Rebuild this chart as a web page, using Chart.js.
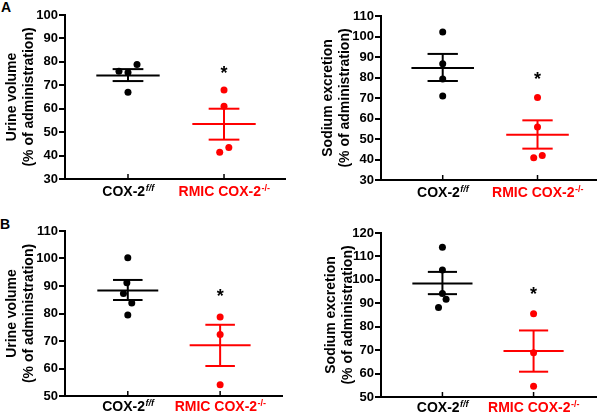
<!DOCTYPE html>
<html>
<head>
<meta charset="utf-8">
<script src="https://cdn.jsdelivr.net/npm/chart.js@4/dist/chart.umd.min.js"></script>
<style>
  body { margin: 0; background: #fff; width: 600px; height: 412px; position: relative; overflow: hidden; font-family: "Liberation Sans", Arial, sans-serif; }
  .painel { position: absolute; width: 300px; height: 206px; }
  .letra { position: absolute; font-weight: bold; font-size: 14px; line-height: 1; }
</style>
</head>
<body>
<div class="letra" style="left:1px;top:0px">A</div>
<div class="letra" style="left:0px;top:217px">B</div>
<div class="painel" style="left:0;top:0"><canvas id="grafico-a1" width="300" height="206"></canvas></div>
<div class="painel" style="left:300px;top:0"><canvas id="grafico-a2" width="300" height="206"></canvas></div>
<div class="painel" style="left:0;top:206px"><canvas id="grafico-b1" width="300" height="206"></canvas></div>
<div class="painel" style="left:300px;top:206px"><canvas id="grafico-b2" width="300" height="206"></canvas></div>
<script>
// grupos (eixo x)
var categorias = ["COX-2", "RMIC COX-2"];
var sobrescritos = ["f/f", "-/-"];
var coresGrupos = ["#000000", "#ff0000"];

// A - volume urinário
var volA_ctrl = [76.0, 75.5, 78.9, 67.0];
var volA_ctrl_desl = [-0.094, 0, 0.094, 0];
var volA_ko = [68.0, 61.1, 43.4, 41.4];
var volA_ko_desl = [0, 0, 0.05, -0.045];
var volA_media = [74.2, 53.5];
var volA_sem = [[71.8, 76.9], [46.8, 60.0]];

// A - excreção de sódio
var sodA_ctrl = [102.2, 86.7, 79.3, 71.0];
var sodA_ctrl_desl = [0, 0, 0, 0];
var sodA_ko = [70.2, 55.9, 41.9, 40.9];
var sodA_ko_desl = [0, 0, 0.05, -0.04];
var sodA_media = [84.6, 52.1];
var sodA_sem = [[78.3, 91.5], [45.3, 59.1]];

// B - volume urinário
var volB_ctrl = [100.3, 91.2, 87.3, 83.8, 79.5];
var volB_ctrl_desl = [0, -0.01, -0.047, 0.043, 0];
var volB_ko = [78.7, 72.4, 54.1];
var volB_ko_desl = [0, 0, 0];
var volB_media = [88.4, 68.5];
var volB_sem = [[84.9, 92.2], [60.9, 75.9]];

// B - excreção de sódio
var sodB_ctrl = [113.9, 104.2, 94.2, 91.7, 88.2];
var sodB_ctrl_desl = [0, 0, 0, 0.04, -0.043];
var sodB_ko = [85.5, 68.9, 54.6];
var sodB_ko_desl = [0, 0, 0];
var sodB_media = [98.4, 69.6];
var sodB_sem = [[93.9, 103.4], [60.8, 78.4]];

var fonte = "'Liberation Sans', Arial, sans-serif";

function pontos(valores, desl, grupo) {
  return {
    type: "scatter",
    data: valores.map(function (v, i) { return { x: grupo + 1 + desl[i], y: v }; }),
    backgroundColor: coresGrupos[grupo],
    borderWidth: 0,
    pointRadius: 3.5,
    order: 1,
  };
}

function segmento(x1, y1, x2, y2, cor) {
  return {
    type: "scatter",
    data: [{ x: x1, y: y1 }, { x: x2, y: y2 }],
    showLine: true,
    borderColor: cor,
    borderWidth: 2,
    pointRadius: 0,
    order: 2,
  };
}

// média ± EPM de cada grupo
function barrasMedia(media, sem) {
  var lista = [];
  media.forEach(function (m, g) {
    var c = g + 1, cor = coresGrupos[g];
    lista.push(segmento(c - 0.33, m, c + 0.33, m, cor));
    lista.push(segmento(c, sem[g][0], c, sem[g][1], cor));
    lista.push(segmento(c - 0.16, sem[g][0], c + 0.16, sem[g][0], cor));
    lista.push(segmento(c - 0.16, sem[g][1], c + 0.16, sem[g][1], cor));
  });
  return lista;
}

// rótulos do eixo x com sobrescrito, marcas para dentro e asterisco
var rotulosX = {
  id: "rotulosX",
  afterDraw: function (chart, args, opts) {
    var ctx = chart.ctx;
    var sx = chart.scales.x, sy = chart.scales.y;
    var base = chart.chartArea.bottom;
    ctx.save();
    categorias.forEach(function (cat, i) {
      var px = sx.getPixelForValue(i + 1);
      ctx.strokeStyle = "#000";
      ctx.lineWidth = 1.5;
      ctx.beginPath();
      ctx.moveTo(px, base);
      ctx.lineTo(px, base - 5);
      ctx.stroke();

      var fBase = "bold 14px " + fonte;
      var fSup = (i === 0 ? "italic " : "") + "bold 9px " + fonte;
      ctx.font = fBase;
      var w1 = ctx.measureText(cat).width;
      ctx.font = fSup;
      var w2 = ctx.measureText(sobrescritos[i]).width;
      var x0 = px - (w1 + w2) / 2;
      ctx.fillStyle = coresGrupos[i];
      ctx.textAlign = "left";
      ctx.textBaseline = "alphabetic";
      ctx.font = fBase;
      ctx.fillText(cat, x0, base + opts.desceRotulo);
      ctx.font = fSup;
      ctx.fillText(sobrescritos[i], x0 + w1 + 0.5, base + opts.desceRotulo - 5);
    });
    ctx.fillStyle = "#000";
    ctx.font = "bold 18px " + fonte;
    ctx.textAlign = "center";
    ctx.fillText("*", sx.getPixelForValue(2), sy.getPixelForValue(opts.estrela) + 10);
    ctx.restore();
  },
};

function criarGrafico(id, p) {
  var ctx = document.getElementById(id).getContext("2d");
  var datasets = [
    pontos(p.ctrl, p.ctrlDesl, 0),
    pontos(p.ko, p.koDesl, 1),
  ].concat(barrasMedia(p.media, p.sem));

  return new Chart(ctx, {
    type: "scatter",
    data: { datasets: datasets },
    plugins: [rotulosX],
    options: {
      responsive: false,
      animation: false,
      layout: { padding: { top: p.topo, right: 300 - p.direita, left: 0, bottom: 0 } },
      plugins: {
        legend: { display: false },
        tooltip: { enabled: false },
        rotulosX: { estrela: p.estrela, desceRotulo: p.desceRotulo },
      },
      scales: {
        x: {
          type: "linear",
          min: p.xMin,
          max: p.xMax,
          afterFit: function (s) { s.height = 206 - p.fundo; },
          border: { display: true, color: "#000", width: 2 },
          grid: { display: false },
          ticks: { display: false },
        },
        y: {
          min: p.yMin,
          max: p.yMax,
          afterFit: function (s) { s.width = p.esquerda; },
          border: { display: true, color: "#000", width: 2 },
          grid: { drawOnChartArea: false, drawTicks: true, tickLength: 6, color: "#000", lineWidth: 2 },
          ticks: {
            stepSize: 10,
            autoSkip: false,
            padding: 1,
            color: "#000",
            font: { family: fonte, size: 13, weight: "bold" },
          },
          title: {
            display: true,
            text: p.titulo,
            color: "#000",
            font: { family: fonte, size: 14, weight: "bold", lineHeight: 1.2 },
            padding: { top: p.tituloPad, bottom: 0 },
          },
        },
      },
    },
  });
}

criarGrafico("grafico-a1", {
  ctrl: volA_ctrl, ctrlDesl: volA_ctrl_desl, ko: volA_ko, koDesl: volA_ko_desl,
  media: volA_media, sem: volA_sem, estrela: 77.1,
  titulo: ["Urine volume", "(% of administration)"], tituloPad: 4,
  yMin: 30, yMax: 100, xMin: 0.344, xMax: 2.635,
  esquerda: 65, direita: 285, topo: 15, fundo: 179, desceRotulo: 17,
});

criarGrafico("grafico-a2", {
  ctrl: sodA_ctrl, ctrlDesl: sodA_ctrl_desl, ko: sodA_ko, koDesl: sodA_ko_desl,
  media: sodA_media, sem: sodA_sem, estrela: 81.2,
  titulo: ["Sodium excretion", "(% of administration)"], tituloPad: 20,
  yMin: 30, yMax: 110, xMin: 0.349, xMax: 2.617,
  esquerda: 81, direita: 298, topo: 16, fundo: 180, desceRotulo: 17,
});

criarGrafico("grafico-b1", {
  ctrl: volB_ctrl, ctrlDesl: volB_ctrl_desl, ko: volB_ko, koDesl: volB_ko_desl,
  media: volB_media, sem: volB_sem, estrela: 87.8,
  titulo: ["Urine volume", "(% of administration)"], tituloPad: 4,
  yMin: 50, yMax: 110, xMin: 0.32, xMax: 2.67,
  esquerda: 65, direita: 282, topo: 25, fundo: 190, desceRotulo: 15,
});

criarGrafico("grafico-b2", {
  ctrl: sodB_ctrl, ctrlDesl: sodB_ctrl_desl, ko: sodB_ko, koDesl: sodB_ko_desl,
  media: sodB_media, sem: sodB_sem, estrela: 95.6,
  titulo: ["Sodium excretion", "(% of administration)"], tituloPad: 23,
  yMin: 50, yMax: 120, xMin: 0.326, xMax: 2.685,
  esquerda: 81, direita: 299, topo: 27, fundo: 191, desceRotulo: 15,
});
</script>
</body>
</html>
